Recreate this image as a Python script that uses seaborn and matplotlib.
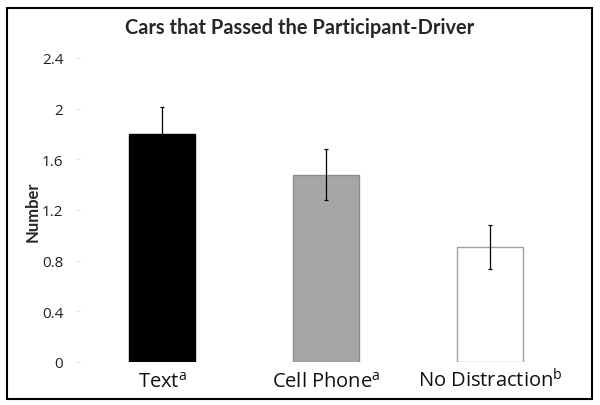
import matplotlib
matplotlib.use("Agg")
import matplotlib.pyplot as plt
import seaborn as sns
import pandas as pd
from matplotlib.patches import Rectangle

categories = ["Text", "Cell Phone", "No Distraction"]
superscripts = ["a", "a", "b"]
means = [1.80, 1.48, 0.91]
errors = [0.21, 0.20, 0.175]
yticks = [0, 0.4, 0.8, 1.2, 1.6, 2, 2.4]
ytick_labels = ["0", "0.4", "0.8", "1.2", "1.6", "2", "2.4"]

face_colors = ["#000000", "#A6A6A6", "#FFFFFF"]
edge_colors = ["#000000", "#8C8C8C", "#A0A0A0"]

sns.set_style("white")
plt.rcParams["font.family"] = ["Open Sans", "DejaVu Sans"]
plt.rcParams["mathtext.fontset"] = "custom"
plt.rcParams["mathtext.rm"] = "Open Sans"
plt.rcParams["mathtext.it"] = "Open Sans"

df = pd.DataFrame({"cat": categories, "val": means})

fig = plt.figure(figsize=(6.0, 4.06), dpi=100)
ax = fig.add_axes([80 / 600, 1 - 363 / 406, (572 - 80) / 600, (363 - 59) / 406])

sns.barplot(data=df, x="cat", y="val", ax=ax, width=0.4, errorbar=None,
            palette=face_colors, hue="cat", legend=False, saturation=1)
for patch, ec in zip(ax.patches, edge_colors):
    patch.set_edgecolor(ec)
    patch.set_linewidth(1.0)

ax.errorbar(x=list(range(len(categories))), y=means, yerr=errors, fmt="none",
            ecolor="black", elinewidth=0.9, capsize=1.2, capthick=0.9)

ax.set_ylim(0, 2.4)
ax.set_xlim(-0.5, len(categories) - 0.5)
ax.set_yticks(yticks)
ax.set_yticklabels(ytick_labels, fontsize=11, color="#222222")
ax.set_xticks(list(range(len(categories))))
ax.set_xticklabels([f"{c}$^{{\\mathrm{{{s}}}}}$" for c, s in zip(categories, superscripts)],
                   fontsize=14.5, color="#111111")
for lbl in ax.get_xticklabels():
    lbl.set_verticalalignment("baseline")
ax.tick_params(axis="y", length=3, width=0.6, color="#E0E0E0", pad=9, left=True)
ax.tick_params(axis="x", length=0, pad=18)
for sp in ax.spines.values():
    sp.set_visible(False)
ax.set_xlabel("")
ax.set_ylabel("Number", fontsize=12, fontweight="bold", family=["Lato", "DejaVu Sans"])
ax.yaxis.set_label_coords(41 / 600, 0.5, transform=fig.transFigure)
ax.yaxis.label.set_y(1 - 212 / 406)

fig.text(0.5, 1 - 28 / 406, "Cars that Passed the Participant-Driver",
         ha="center", va="center", fontsize=14.4, fontweight="bold",
         family=["Lato", "DejaVu Sans"])

fig.patches.append(Rectangle((7 / 600, 1 - 400 / 406), (592 - 7) / 600, (400 - 9) / 406,
                             transform=fig.transFigure, fill=False,
                             edgecolor="black", linewidth=1.5, zorder=10))

fig.savefig("out.png", dpi=100)
